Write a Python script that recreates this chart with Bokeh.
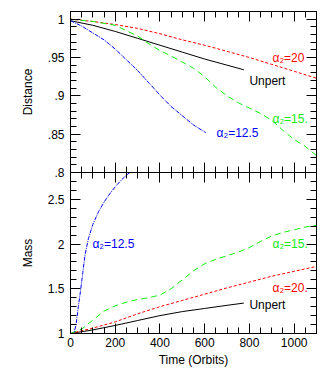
from bokeh.plotting import figure
from bokeh.layouts import column
from bokeh.models import (Range1d, FixedTicker, LinearAxis, Label,
                          CustomJSTickFormatter)
from bokeh.embed import file_html
from bokeh.resources import INLINE

# ---------------- data ----------------
# Distance panel
t_unp_d = [0, 100, 200, 300, 400, 500, 600, 700, 775]
d_unp = [0.998, 0.992, 0.984, 0.975, 0.966, 0.957, 0.948, 0.940, 0.934]

t_a20_d = [0, 100, 200, 300, 400, 500, 600, 700, 800, 900, 1000, 1100]
d_a20 = [1.0, 0.997, 0.993, 0.988, 0.981, 0.973, 0.966, 0.958, 0.950, 0.941, 0.932, 0.923]

t_a15_d = [0, 100, 200, 300, 350, 400, 450, 500, 550, 600, 650, 700, 750,
           800, 850, 900, 950, 1000, 1050, 1100]
d_a15 = [1.0, 0.997, 0.992, 0.978, 0.968, 0.959, 0.952, 0.944, 0.936, 0.925,
         0.911, 0.900, 0.891, 0.884, 0.877, 0.868, 0.855, 0.843, 0.834, 0.822]

t_a125_d = [0, 50, 100, 150, 200, 250, 300, 350, 400, 450, 500, 550, 605]
d_a125 = [0.998, 0.991, 0.982, 0.973, 0.961, 0.947, 0.933, 0.917, 0.901,
          0.886, 0.874, 0.862, 0.852]

# Mass panel
t_unp_m = [0, 100, 200, 300, 400, 500, 600, 700, 775]
m_unp = [1.0, 1.04, 1.09, 1.145, 1.2, 1.245, 1.28, 1.315, 1.34]

t_a20_m = [0, 100, 200, 300, 400, 500, 600, 700, 800, 900, 1000, 1100]
m_a20 = [1.0, 1.06, 1.13, 1.22, 1.30, 1.37, 1.44, 1.51, 1.575, 1.64, 1.695, 1.75]

t_a15_m = [0, 50, 100, 150, 200, 250, 300, 350, 400, 450, 500, 550, 600, 650,
           700, 750, 800, 850, 900, 950, 1000, 1050, 1100]
m_a15 = [1.0, 1.05, 1.15, 1.25, 1.31, 1.35, 1.38, 1.40, 1.43, 1.50, 1.60, 1.70,
         1.78, 1.83, 1.87, 1.91, 1.96, 2.03, 2.09, 2.13, 2.16, 2.19, 2.21]

t_a125_m = [0, 15, 25, 35, 45, 55, 65, 80, 100, 125, 150, 175, 200, 225, 250, 270]
m_a125 = [1.0, 1.0, 1.1, 1.3, 1.48, 1.68, 1.88, 2.06, 2.22, 2.36, 2.47, 2.56,
          2.64, 2.71, 2.77, 2.81]

x_major = [0, 200, 400, 600, 800, 1000]
x_minor = list(range(0, 1101, 50))
d_major = [0.8, 0.85, 0.9, 0.95, 1.0]
d_minor = [round(0.8 + 0.01 * i, 2) for i in range(22)]
m_major = [1.0, 1.5, 2.0, 2.5]
m_minor = [round(1.0 + 0.1 * i, 1) for i in range(19)]

# ---------------- style ----------------
FONT = "Liberation Sans"
RED = "#ff0000"
GREEN = "#11ee11"
BLUE = "#0000ff"
BLACK = "#000000"

fmt = CustomJSTickFormatter(code="""
let s = (Math.round(tick*100)/100).toString();
if (s.startsWith('0.')) s = s.substring(1);
return s;
""")


def base_axis(ax):
    ax.major_tick_out = 0
    ax.minor_tick_out = 0
    ax.axis_line_color = BLACK
    ax.major_tick_line_color = BLACK
    ax.minor_tick_line_color = BLACK
    ax.major_label_text_font = FONT
    ax.major_label_text_color = BLACK
    ax.major_label_text_font_size = "12px"
    ax.axis_label_text_font = FONT
    ax.axis_label_text_font_style = "normal"
    ax.axis_label_text_color = BLACK
    ax.axis_label_text_font_size = "12px"


def labeled_axis(p, loc, ticks, minor, label, formatter=None):
    ax = LinearAxis(axis_label=label)
    if formatter is not None:
        ax.formatter = formatter
    ax.ticker = FixedTicker(ticks=ticks, minor_ticks=minor)
    base_axis(ax)
    ax.major_tick_in = 10
    ax.minor_tick_in = 6
    ax.major_label_standoff = 6
    p.add_layout(ax, loc)
    return ax


def mirror_axis(p, loc, ticks, minor):
    # tick marks only (no labels): one axis for long ticks, one for short
    for tk, ln in ((ticks, 10), (minor, 6)):
        ax = LinearAxis()
        ax.ticker = FixedTicker(ticks=[], minor_ticks=tk)
        base_axis(ax)
        ax.major_tick_in = 0
        ax.minor_tick_in = ln
        ax.major_label_standoff = 0
        p.add_layout(ax, loc)


def make_fig(yr, height, top, bottom):
    p = figure(width=327, height=height, output_backend="svg",
               toolbar_location=None, x_range=Range1d(0, 1100), y_range=yr,
               min_border_left=70, min_border_right=11,
               min_border_top=top, min_border_bottom=bottom,
               x_axis_location=None, y_axis_location=None)
    p.grid.visible = False
    p.outline_line_color = BLACK
    p.border_fill_alpha = 0
    p.background_fill_color = "white"
    return p


def add_labels(p, items):
    for txt, x, y, c in items:
        p.add_layout(Label(x=x, y=y, text=txt, text_color=c, text_font=FONT,
                           text_font_size="12px", text_baseline="middle",
                           text_align="left"))


# ---------------- top panel: Distance ----------------
p1 = make_fig(Range1d(0.8, 1.01), 180, 11, 8)
ax = labeled_axis(p1, "left", d_major, d_minor, "Distance", fmt)
ax.axis_label_standoff = 10
mirror_axis(p1, "right", d_major, d_minor)
mirror_axis(p1, "above", x_major, x_minor)
mirror_axis(p1, "below", x_major, x_minor)

p1.line(t_unp_d, d_unp, color=BLACK, line_width=1)
p1.line(t_a20_d, d_a20, color=RED, line_width=1, line_dash="3 2")
p1.line(t_a15_d, d_a15, color=GREEN, line_width=1, line_dash="6 4")
p1.line(t_a125_d, d_a125, color=BLUE, line_width=1, line_dash="4 1 1 1")

add_labels(p1, [("α₂=20", 903, 0.950, RED), ("Unpert", 800, 0.920, BLACK),
                ("α₂=15.", 903, 0.870, GREEN), ("α₂=12.5", 653, 0.851, BLUE)])

# ---------------- bottom panel: Mass ----------------
p2 = make_fig(Range1d(1.0, 2.8), 198, 0, 37)
p2.margin = (-8, 0, 0, 0)
ax = labeled_axis(p2, "left", m_major, m_minor, "Mass")
ax.axis_label_standoff = 10
ax = labeled_axis(p2, "below", x_major, x_minor, "Time (Orbits)")
ax.major_label_standoff = 4
ax.axis_label_standoff = 3
mirror_axis(p2, "right", m_major, m_minor)
mirror_axis(p2, "above", x_major, x_minor)

p2.line(t_unp_m, m_unp, color=BLACK, line_width=1)
p2.line(t_a20_m, m_a20, color=RED, line_width=1, line_dash="3 2")
p2.line(t_a15_m, m_a15, color=GREEN, line_width=1, line_dash="6 4")
p2.line(t_a125_m, m_a125, color=BLUE, line_width=1, line_dash="4 1 1 1")

add_labels(p2, [("α₂=12.5", 98, 2.0, BLUE), ("α₂=15.", 903, 2.0, GREEN),
                ("α₂=20.", 903, 1.514, RED), ("Unpert", 800, 1.324, BLACK)])

layout = column(p1, p2, spacing=0)
open("out.html", "w").write(file_html(layout, INLINE))
